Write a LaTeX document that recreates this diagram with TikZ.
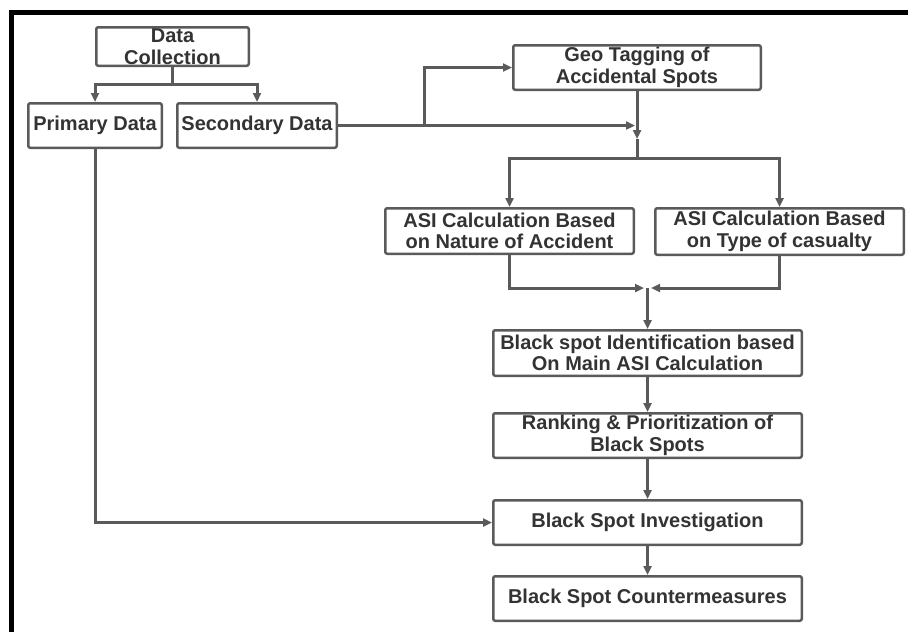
\documentclass[tikz,border=0pt]{standalone}
\usepackage{fontspec}
\setmainfont{Liberation Sans}
\usetikzlibrary{arrows.meta}
\definecolor{linegrey}{HTML}{5A5A5A}
\definecolor{txtgrey}{HTML}{333333}
\tikzset{
  box/.style={draw=linegrey, line width=2.5pt, rounded corners=2pt, fill=white,
    inner sep=0pt, align=center, text=txtgrey,
    font=\fontsize{20}{21.5}\selectfont\bfseries},
  conn/.style={draw=linegrey, line width=3pt},
  arr/.style={conn, -{Triangle[length=9pt,width=8pt]}, shorten >=0pt},
}
\begin{document}
\begin{tikzpicture}[x=1pt,y=-1pt]
\useasboundingbox (0,0) rectangle (908,632);
\fill[white] (0,0) rectangle (908,632);
% frame
\draw[line width=5pt, black] (11,640) -- (11,12) -- (915,12);
% nodes
\node[box, minimum width=152.5pt, minimum height=38.5pt] (dc) at (172.5,46.5) {Data\\Collection};
\node[box, minimum width=133.5pt, minimum height=44.5pt] (prim) at (95,125.5) {Primary Data};
\node[box, minimum width=159.5pt, minimum height=44.5pt] (sec) at (257,125.5) {Secondary Data};
\node[box, minimum width=247.5pt, minimum height=44.5pt] (geo) at (637,67.5) {Geo Tagging of\\Accidental Spots};
\node[box, minimum width=248.5pt, minimum height=45.5pt] (nat) at (509.5,231) {ASI Calculation Based\\on Nature of Accident};
\node[box, minimum width=248.5pt, minimum height=46.5pt] (typ) at (779.5,231.5) {ASI Calculation Based\\on Type of casualty};
\node[box, minimum width=308.5pt, minimum height=45.5pt] (ident) at (647.5,353) {Black spot Identification based\\On Main ASI Calculation};
\node[box, minimum width=308.5pt, minimum height=44.5pt] (rank) at (647.5,435.5) {Ranking \& Prioritization of\\Black Spots};
\node[box, minimum width=308.5pt, minimum height=44.5pt] (inv) at (647.5,522.5) {Black Spot Investigation};
\node[box, minimum width=308.5pt, minimum height=44.5pt] (cm) at (647.5,598.5) {Black Spot Countermeasures};
% junction coordinates
\coordinate (dcj) at (172.5,84);
\coordinate (secj) at (424,125.5);
\coordinate (geoin) at (635,125.5);
\coordinate (geoa) at (637,139);
\coordinate (geoj) at (637,158);
\coordinate (mergeL) at (644,288);
\coordinate (mergeR) at (651,288);
\coordinate (mergeC) at (647.5,288);
% connectors
\draw[conn] (dc.south) -- (dcj);
\draw[arr] (dcj) -| (prim.north);
\draw[arr] (dcj) -| (sec.north);
\draw[arr] (sec.east) -- (geoin);
\draw[arr] (secj) |- (geo.west);
\draw[arr] (geo.south) -- (geoa);
\draw[conn] (geoa) -- (geoj);
\draw[arr] (geoj) -| (nat.north);
\draw[arr] (geoj) -| (typ.north);
\draw[arr] (nat.south) |- (mergeL);
\draw[arr] (typ.south) |- (mergeR);
\draw[arr] (mergeC) -- (ident.north);
\draw[arr] (ident.south) -- (rank.north);
\draw[arr] (rank.south) -- (inv.north);
\draw[arr] (inv.south) -- (cm.north);
\draw[arr] (prim.south) |- (inv.west);
\end{tikzpicture}
\end{document}
